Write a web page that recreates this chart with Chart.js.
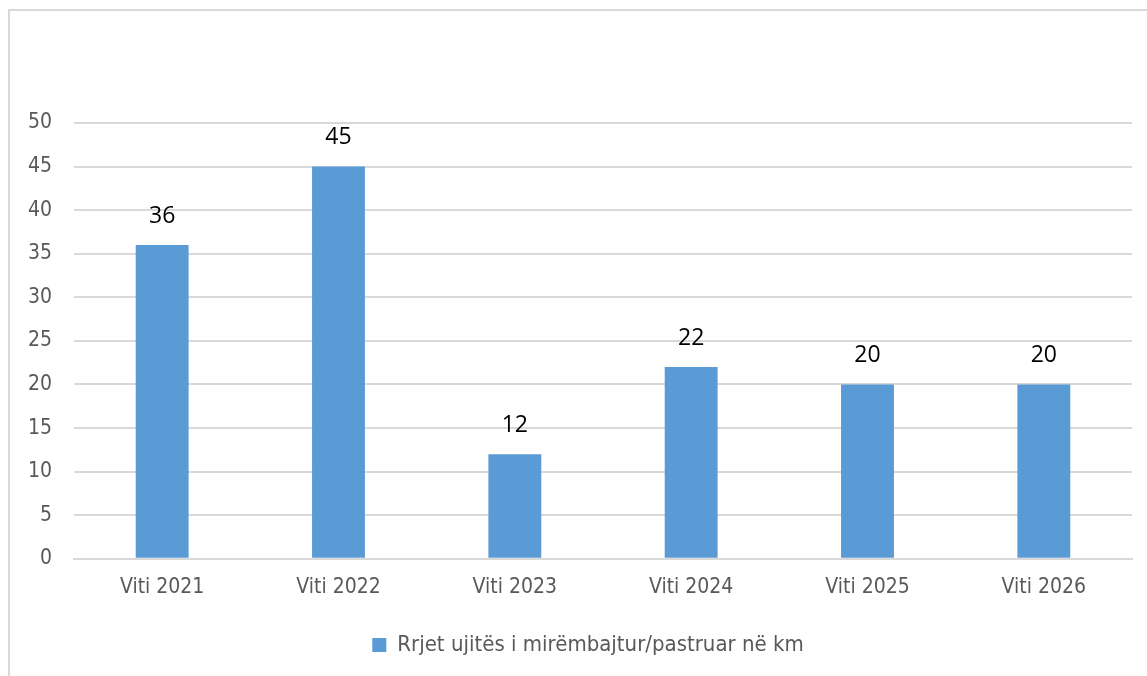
<!DOCTYPE html>
<html>
<head>
<meta charset="utf-8">
<script src="https://cdn.jsdelivr.net/npm/chart.js@4.4.1/dist/chart.umd.min.js"></script>
<style>
  html, body { margin: 0; padding: 0; background: #fff; overflow: hidden; }
  #frame { position: absolute; left: 8px; top: 9px; width: 1160px; height: 700px; border: 2px solid #d9d9d9; box-sizing: border-box; }
  #wrap { position: absolute; left: 0; top: 0; width: 1147px; height: 676px; }
</style>
</head>
<body>
<div id="frame"></div>
<div id="wrap"><canvas id="c" width="1147" height="676"></canvas></div>
<script>
const categories = ["Viti 2021", "Viti 2022", "Viti 2023", "Viti 2024", "Viti 2025", "Viti 2026"];
const seriesName = "Rrjet ujitës i mirëmbajtur/pastruar në km";
const values = [36, 45, 12, 22, 20, 20];
const yTicks = [0, 5, 10, 15, 20, 25, 30, 35, 40, 45, 50];

const labelPlugin = {
  id: 'valueLabels',
  afterLayout(chart) {
    const lg = chart.legend;
    if (lg) { lg.left += 12; lg.right += 12; }
  },
  afterDatasetsDraw(chart) {
    const ctx = chart.ctx;
    const meta = chart.getDatasetMeta(0);
    ctx.save();
    ctx.fillStyle = '#000';
    ctx.font = '23px "Open Sans", "Noto Sans", sans-serif';
    ctx.textAlign = 'center';
    ctx.textBaseline = 'middle';
    meta.data.forEach((bar, i) => {
      ctx.fillText(String(chart.data.datasets[0].data[i]), bar.x, bar.y - 29);
    });
    ctx.restore();
  }
};

const tickFont = { family: '"DejaVu Sans Condensed", "DejaVu Sans", sans-serif', size: 21 };

new Chart(document.getElementById('c'), {
  type: 'bar',
  data: {
    labels: categories,
    datasets: [{
      label: seriesName,
      data: values,
      backgroundColor: '#5B9BD5',
      borderWidth: 0,
      barPercentage: 0.3,
      categoryPercentage: 1.0
    }]
  },
  options: {
    responsive: false,
    animation: false,
    layout: { padding: { left: 20, right: 15, top: 123, bottom: 10 } },
    plugins: {
      legend: {
        position: 'bottom',
        labels: {
          boxWidth: 14, boxHeight: 14, padding: 18,
          color: '#595959',
          font: { family: '"DejaVu Sans Condensed", "DejaVu Sans", sans-serif', size: 22 }
        }
      },
      tooltip: { enabled: false }
    },
    scales: {
      x: {
        grid: { display: false, drawTicks: false },
        border: { display: true, color: '#d9d9d9', width: 2 },
        ticks: { padding: 16, color: '#595959', font: tickFont }
      },
      y: {
        min: 0, max: 50,
        afterBuildTicks(scale) { scale.ticks = yTicks.map(v => ({ value: v })); },
        afterFit(scale) { scale.width = 54; },
        grid: { color: '#d9d9d9', lineWidth: 2, drawTicks: false },
        border: { display: false },
        ticks: { padding: 22, color: '#595959', font: tickFont }
      }
    }
  },
  plugins: [labelPlugin]
});
</script>
</body>
</html>
